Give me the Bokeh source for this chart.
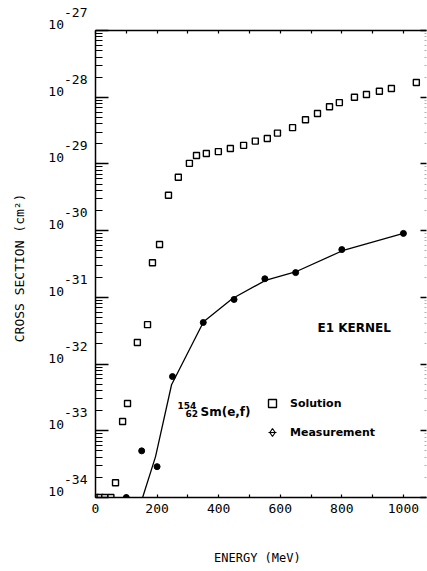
import math
from bokeh.plotting import figure
from bokeh.models import (LogAxis, LinearAxis, FixedTicker, Label, Range1d, Legend, LegendItem)
from bokeh.embed import file_html
from bokeh.resources import INLINE

# ---------------- data ----------------
sol_energy = [0, 15, 30, 50, 65, 88, 104, 136, 169, 185, 208, 237, 269, 305, 328, 360,
              399, 438, 481, 519, 558, 591, 640, 682, 721, 760, 792, 841, 880, 922, 961, 1042]
sol_xsec = [1.0e-34, 1.0e-34, 1.0e-34, 1.0e-34, 1.66e-34, 1.38e-33, 2.57e-33, 2.1e-32,
            3.9e-32, 3.3e-31, 6.2e-31, 3.4e-30, 6.3e-30, 1.02e-29, 1.34e-29, 1.43e-29,
            1.53e-29, 1.7e-29, 1.9e-29, 2.2e-29, 2.4e-29, 2.9e-29, 3.5e-29, 4.6e-29,
            5.7e-29, 7.2e-29, 8.3e-29, 1.0e-28, 1.1e-28, 1.23e-28, 1.35e-28, 1.66e-28]

meas_energy = [100, 150, 200, 250, 350, 450, 550, 650, 800, 1000]
meas_xsec = [1.0e-34, 5.0e-34, 2.9e-34, 6.5e-33, 4.2e-32, 9.3e-32, 1.9e-31, 2.35e-31,
             5.2e-31, 9.1e-31]

fit_energy = [153, 195, 247, 351, 445, 552, 649, 802, 1000]
fit_xsec = [1.0e-34, 4.1e-34, 4.9e-33, 4.3e-32, 9.6e-32, 1.8e-31, 2.4e-31, 5.0e-31, 9.1e-31]

x_ticks = [0, 200, 400, 600, 800, 1000]
x_minor = [100, 300, 500, 700, 900]
y_exponents = [-27, -28, -29, -30, -31, -32, -33, -34]
y_ticks = [10.0 ** e for e in y_exponents]
y_minor = [k * 10.0 ** e for e in range(-34, -27) for k in range(2, 10)]
# tick label: exponent raised above and to the right of the base "10"
# (two blank lines below lift the pair above the tick, as in the original)
NB = "\u00a0"
y_tick_labels = ["%d\n10%s\n%s\n%s" % (e, NB * 3, NB, NB) for e in y_exponents]
y_title = "CROSS SECTION  (cm²)"
x_title = "ENERGY  (MeV)"

MONO = "DejaVu Sans Mono"
SANS = "DejaVu Sans"

p = figure(width=427, height=571, x_range=Range1d(0, 1075), y_range=Range1d(1e-34, 1e-27),
           y_axis_type="log", output_backend="svg", toolbar_location=None,
           min_border_left=95, min_border_right=1, min_border_top=30, min_border_bottom=74,
           outline_line_color=None, background_fill_color="white", border_fill_color="white")
p.xgrid.visible = False
p.ygrid.visible = False

# bottom axis
xa = p.xaxis[0]
xa.ticker = FixedTicker(ticks=x_ticks, minor_ticks=x_minor)
xa.major_tick_in = 3
xa.major_tick_out = 0
xa.minor_tick_in = 3
xa.minor_tick_out = 0
xa.axis_line_width = 1.5
xa.major_tick_line_width = 1.2
xa.minor_tick_line_width = 1.2
xa.major_label_standoff = 6
xa.major_label_text_font = MONO
xa.major_label_text_font_size = "13px"
xa.major_label_text_color = "black"
xa.axis_label = x_title
xa.axis_label_text_font = MONO
xa.axis_label_text_font_style = "normal"
xa.axis_label_text_font_size = "12px"
xa.axis_label_text_color = "black"
xa.axis_label_standoff = 35

# left axis
ya = p.yaxis[0]
ya.ticker = FixedTicker(ticks=y_ticks, minor_ticks=y_minor)
ya.major_tick_in = 13
ya.major_tick_out = 0
ya.minor_tick_in = 7
ya.minor_tick_out = 0
ya.axis_line_width = 1.5
ya.major_tick_line_width = 1.3
ya.minor_tick_line_width = 1.1
ya.major_label_overrides = dict(zip(y_ticks, y_tick_labels))
ya.major_label_standoff = 8
ya.major_label_text_font = MONO
ya.major_label_text_font_size = "13px"
ya.major_label_text_color = "black"
ya.major_label_text_line_height = 0.8
ya.axis_label = y_title
ya.axis_label_text_font = MONO
ya.axis_label_text_font_style = "normal"
ya.axis_label_text_font_size = "13px"
ya.axis_label_text_color = "black"
ya.axis_label_standoff = 18

# right axis (ticks only)
ra = LogAxis(ticker=FixedTicker(ticks=y_ticks, minor_ticks=y_minor),
             major_tick_in=6, major_tick_out=0, minor_tick_in=2, minor_tick_out=0,
             axis_line_color=None, major_tick_line_width=1.3, minor_tick_line_alpha=0.3,
             major_label_standoff=0, major_label_overrides={t: "" for t in y_ticks})
p.add_layout(ra, "right")

# top axis (ticks only)
ta = LinearAxis(ticker=FixedTicker(ticks=x_ticks + x_minor, minor_ticks=[]),
                major_tick_in=3, major_tick_out=0, minor_tick_in=0, minor_tick_out=0,
                axis_line_width=1.5, major_tick_line_width=1.2, major_label_standoff=0,
                major_label_overrides={t: "" for t in x_ticks + x_minor})
p.add_layout(ta, "above")

# series
sq = p.scatter(sol_energy, sol_xsec, marker="square", size=6, fill_color="white",
               line_color="black", line_width=1.4)
p.line(fit_energy, fit_xsec, line_color="black", line_width=1.3)
p.scatter(meas_energy, meas_xsec, marker="circle", size=6, fill_color="black",
          line_color="black")

# legend key for "Measurement": hollow diamond with an error bar (hidden renderers)
leg_dia = p.scatter(meas_energy, meas_xsec, marker="diamond", fill_color="white",
                    line_color="black", line_width=1.1, visible=False)
leg_bar = p.scatter(meas_energy, meas_xsec, marker="dash", angle=math.pi / 2,
                    line_color="black", line_width=1.1, visible=False)

legend = Legend(items=[LegendItem(label="Solution", renderers=[sq]),
                       LegendItem(label="Measurement", renderers=[leg_dia, leg_bar])],
                location=(167, 55), border_line_color=None, background_fill_alpha=0,
                inactive_fill_alpha=0, padding=0, margin=0, spacing=9,
                glyph_width=20, glyph_height=20, label_standoff=8,
                label_text_font=SANS, label_text_font_style="bold",
                label_text_font_size="11px", label_text_color="black")
p.add_layout(legend)

# annotations
p.add_layout(Label(x=721, y=3.52e-32, text="E1  KERNEL", text_baseline="middle",
                   text_font=SANS, text_font_style="bold", text_font_size="12px",
                   text_color="black"))
p.add_layout(Label(x=266, y=2.39e-33, text="154", text_baseline="middle",
                   text_font=SANS, text_font_style="bold", text_font_size="9px",
                   text_color="black"))
p.add_layout(Label(x=292, y=1.81e-33, text="62", text_baseline="middle",
                   text_font=SANS, text_font_style="bold", text_font_size="9px",
                   text_color="black"))
p.add_layout(Label(x=341, y=1.94e-33, text="Sm(e,f)", text_baseline="middle",
                   text_font=SANS, text_font_style="bold", text_font_size="12px",
                   text_color="black"))

open("out.html", "w").write(file_html(p, INLINE))
